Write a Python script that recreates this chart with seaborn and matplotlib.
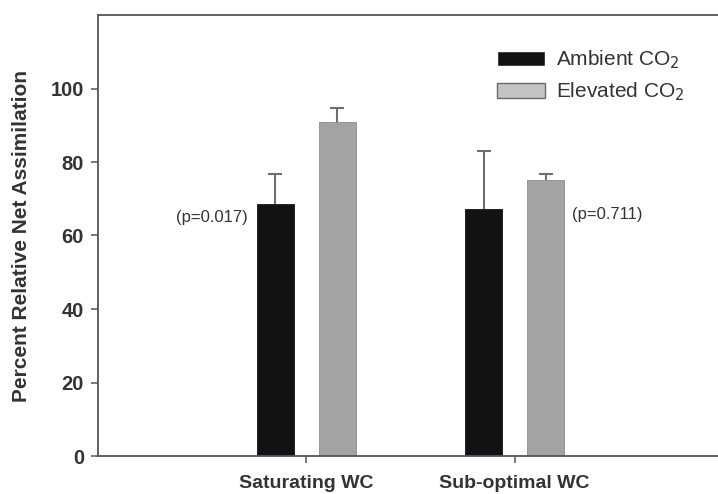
import matplotlib
matplotlib.use("Agg")
import matplotlib.pyplot as plt
import seaborn as sns
import pandas as pd
import numpy as np

# Water-content treatments and CO2 levels
conditions = ["Saturating WC", "Sub-optimal WC"]
co2_levels = ["Ambient CO$_2$", "Elevated CO$_2$"]

# Mean percent relative net assimilation and upper error (SE)
ambient_mean = [68.5, 67.3]
elevated_mean = [90.8, 75.0]
ambient_err = [8.2, 15.6]
elevated_err = [3.8, 1.6]

p_labels = ["(p=0.017)", "(p=0.711)"]
y_ticks = [0, 20, 40, 60, 80, 100]

df = pd.DataFrame({
    "condition": conditions * 2,
    "co2": [co2_levels[0]] * 2 + [co2_levels[1]] * 2,
    "value": ambient_mean + elevated_mean,
    "err": ambient_err + elevated_err,
})

sns.set_theme(style="white")
plt.rcParams["font.family"] = ["Liberation Sans", "DejaVu Sans"]
text_color = "#333333"
spine_color = "#555555"
err_color = "#6e6e6e"

fig = plt.figure(figsize=(7.18, 4.94), dpi=100)
ax = fig.add_axes([98 / 718, 1 - 456 / 494, 625 / 718, 441 / 494])

palette = {co2_levels[0]: "#121215", co2_levels[1]: "#a3a3a3"}
sns.barplot(data=df, x="condition", y="value", hue="co2", order=conditions,
            hue_order=co2_levels, palette=palette, width=0.596, gap=0.40,
            errorbar=None, saturation=1, ax=ax, zorder=2)

# Upward-only error bars with a cap, drawn from each bar's top
for container, errs, edge in zip(ax.containers, [ambient_err, elevated_err],
                                 ["#121215", "#8c8c8c"]):
    for patch, e in zip(container.patches, errs):
        xc = patch.get_x() + patch.get_width() / 2
        top = patch.get_height()
        ax.vlines(xc, top, top + e, color=err_color, linewidth=1.5, zorder=3)
        ax.hlines(top + e, xc - 0.034, xc + 0.034, color=err_color,
                  linewidth=1.5, zorder=3)
        patch.set_edgecolor(edge)
        patch.set_linewidth(0.6)

# p-value annotations beside each group
amb_bar = ax.containers[0].patches[0]
elev_bar = ax.containers[1].patches[1]
ax.text(amb_bar.get_x() - 0.045, 65.0, p_labels[0], ha="right", va="center",
        fontsize=12, color=text_color)
ax.text(elev_bar.get_x() + elev_bar.get_width() + 0.035, 65.8, p_labels[1],
        ha="left", va="center", fontsize=12, color=text_color)

ax.set_xlim(-1, 2)
ax.set_ylim(0, 120)
ax.set_yticks(y_ticks)
ax.set_yticklabels([str(t) for t in y_ticks], fontsize=14.5, fontweight="bold",
                   color=text_color)
ax.set_xticks([0, 1])
ax.set_xticklabels(conditions, fontsize=14, fontweight="bold", color=text_color)
ax.set_xlabel("")
ax.set_ylabel("Percent Relative Net Assimilation", fontsize=15,
              fontweight="bold", color=text_color)
ax.yaxis.set_label_coords(-0.108, 0.50)

ax.tick_params(axis="y", direction="out", length=5, width=1.1, color=spine_color,
               left=True, pad=5)
ax.tick_params(axis="x", direction="out", length=5, width=1.1, color=spine_color,
               bottom=True, pad=9)

for side in ["left", "top", "bottom"]:
    ax.spines[side].set_visible(True)
    ax.spines[side].set_color(spine_color)
    ax.spines[side].set_linewidth(1.3)
ax.spines["right"].set_visible(False)

handles, labels = ax.get_legend_handles_labels()
leg = ax.legend(handles, labels, loc="upper left",
                bbox_to_anchor=(478 / 718, 1 - 30 / 494),
                bbox_transform=fig.transFigure, frameon=False, fontsize=15,
                handlelength=2.3, handleheight=0.7, handletextpad=0.55,
                labelspacing=0.45, labelcolor=text_color)
leg_patches = leg.get_patches()
leg_patches[1].set_facecolor("#c4c4c4")
leg_patches[1].set_edgecolor("#6a6a6a")
leg_patches[1].set_linewidth(1.0)

fig.savefig("out.png", dpi=100)
